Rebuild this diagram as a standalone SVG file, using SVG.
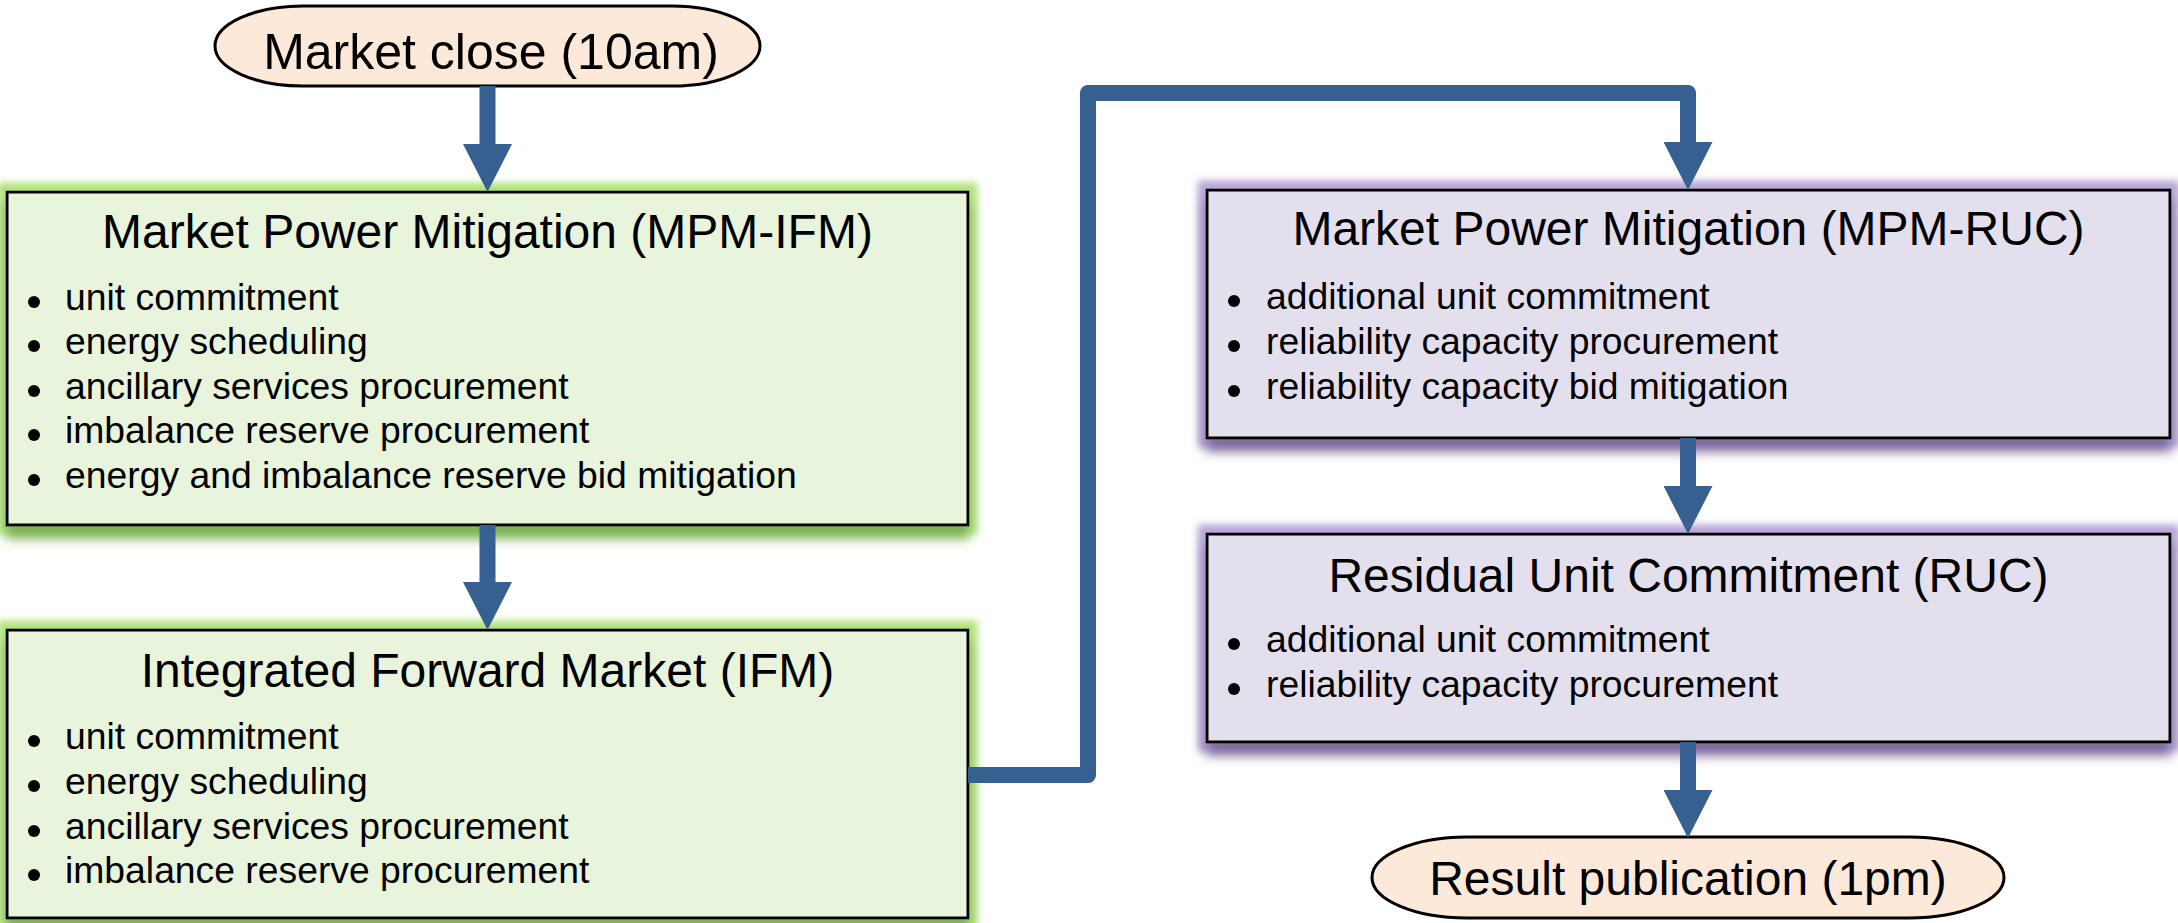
<svg xmlns="http://www.w3.org/2000/svg" width="2178" height="923" viewBox="0 0 2178 923">
<defs>
<style>
.t{font-family:"Liberation Sans",Arial,sans-serif;fill:#000}
.ti{font-size:48px;text-anchor:middle}
.b{font-size:37.3px}
.box{stroke:#000;stroke-width:3}
.g{fill:#E8F5DC}
.p{fill:#E4DFEC}
.pill{fill:#FDE9D9;stroke:#000;stroke-width:3}
.sh{stroke:#36608F;stroke-width:16;fill:none}
.dot{fill:#000}
</style>
<marker id="ah" viewBox="0 0 48 49" refX="0" refY="24.5" markerWidth="48" markerHeight="49" markerUnits="userSpaceOnUse" orient="auto">
<path d="M0,0 L48,24.5 L0,49 z" fill="#36608F"/>
</marker>
<filter id="fg" x="-5%" y="-15%" width="110%" height="135%">
<feMorphology in="SourceAlpha" operator="dilate" radius="8" result="d"/>
<feGaussianBlur in="d" stdDeviation="3.5" result="b"/>
<feFlood flood-color="#B2E37A"/>
<feComposite in2="b" operator="in" result="glow"/>
<feOffset in="SourceAlpha" dy="12" result="o"/>
<feGaussianBlur in="o" stdDeviation="6" result="ob"/>
<feFlood flood-color="#7FAF58"/>
<feComposite in2="ob" operator="in" result="shadow"/>
<feMerge><feMergeNode in="glow"/><feMergeNode in="shadow"/><feMergeNode in="SourceGraphic"/></feMerge>
</filter>
<filter id="fp" x="-5%" y="-15%" width="110%" height="135%">
<feMorphology in="SourceAlpha" operator="dilate" radius="8" result="d"/>
<feGaussianBlur in="d" stdDeviation="3.5" result="b"/>
<feFlood flood-color="#B9A5D6"/>
<feComposite in2="b" operator="in" result="glow"/>
<feOffset in="SourceAlpha" dy="12" result="o"/>
<feGaussianBlur in="o" stdDeviation="6" result="ob"/>
<feFlood flood-color="#806C9E"/>
<feComposite in2="ob" operator="in" result="shadow"/>
<feMerge><feMergeNode in="glow"/><feMergeNode in="shadow"/><feMergeNode in="SourceGraphic"/></feMerge>
</filter>
</defs>
<rect width="2178" height="923" fill="#fff"/>

<g id="market-close">
<rect class="pill" x="215" y="6" width="545" height="80" rx="88" ry="40"/>
<text class="t ti" x="491" y="69" style="font-size:50px">Market close (10am)</text>
</g>

<g id="mpm-ifm">
<rect class="box g" x="7" y="192" width="961" height="333" filter="url(#fg)"/>
<text class="t ti" x="487.5" y="248">Market Power Mitigation (MPM-IFM)</text>
<circle class="dot" cx="34" cy="302" r="6"/><text class="t b" x="65" y="310">unit commitment</text>
<circle class="dot" cx="34" cy="346" r="6"/><text class="t b" x="65" y="354">energy scheduling</text>
<circle class="dot" cx="34" cy="391" r="6"/><text class="t b" x="65" y="399">ancillary services procurement</text>
<circle class="dot" cx="34" cy="435" r="6"/><text class="t b" x="65" y="443">imbalance reserve procurement</text>
<circle class="dot" cx="34" cy="480" r="6"/><text class="t b" x="65" y="488">energy and imbalance reserve bid mitigation</text>
</g>

<g id="ifm">
<rect class="box g" x="7" y="630" width="961" height="288" filter="url(#fg)"/>
<text class="t ti" x="487.5" y="687">Integrated Forward Market (IFM)</text>
<circle class="dot" cx="34" cy="741" r="6"/><text class="t b" x="65" y="749">unit commitment</text>
<circle class="dot" cx="34" cy="786" r="6"/><text class="t b" x="65" y="794">energy scheduling</text>
<circle class="dot" cx="34" cy="831" r="6"/><text class="t b" x="65" y="839">ancillary services procurement</text>
<circle class="dot" cx="34" cy="875" r="6"/><text class="t b" x="65" y="883">imbalance reserve procurement</text>
</g>

<g id="mpm-ruc">
<rect class="box p" x="1207" y="190" width="963" height="248" filter="url(#fp)"/>
<text class="t ti" x="1688.5" y="245">Market Power Mitigation (MPM-RUC)</text>
<circle class="dot" cx="1234" cy="301" r="6"/><text class="t b" x="1266" y="309">additional unit commitment</text>
<circle class="dot" cx="1234" cy="346" r="6"/><text class="t b" x="1266" y="354">reliability capacity procurement</text>
<circle class="dot" cx="1234" cy="391" r="6"/><text class="t b" x="1266" y="399">reliability capacity bid mitigation</text>
</g>

<g id="ruc">
<rect class="box p" x="1207" y="534" width="963" height="208" filter="url(#fp)"/>
<text class="t ti" x="1688.5" y="592">Residual Unit Commitment (RUC)</text>
<circle class="dot" cx="1234" cy="644" r="6"/><text class="t b" x="1266" y="652">additional unit commitment</text>
<circle class="dot" cx="1234" cy="689" r="6"/><text class="t b" x="1266" y="697">reliability capacity procurement</text>
</g>

<g id="result-publication">
<rect class="pill" x="1372" y="837" width="632" height="81" rx="95" ry="40.5"/>
<text class="t ti" x="1688" y="895">Result publication (1pm)</text>
</g>

<g id="connectors">
<path class="sh" d="M487.5,86 V144" marker-end="url(#ah)"/>
<path class="sh" d="M487.5,525 V582" marker-end="url(#ah)"/>
<path class="sh" d="M968,775 H1088 V93 H1688 V142" stroke-linejoin="round" marker-end="url(#ah)"/>
<path class="sh" d="M1688,438 V486" marker-end="url(#ah)"/>
<path class="sh" d="M1688,742 V790" marker-end="url(#ah)"/>
</g>
</svg>
